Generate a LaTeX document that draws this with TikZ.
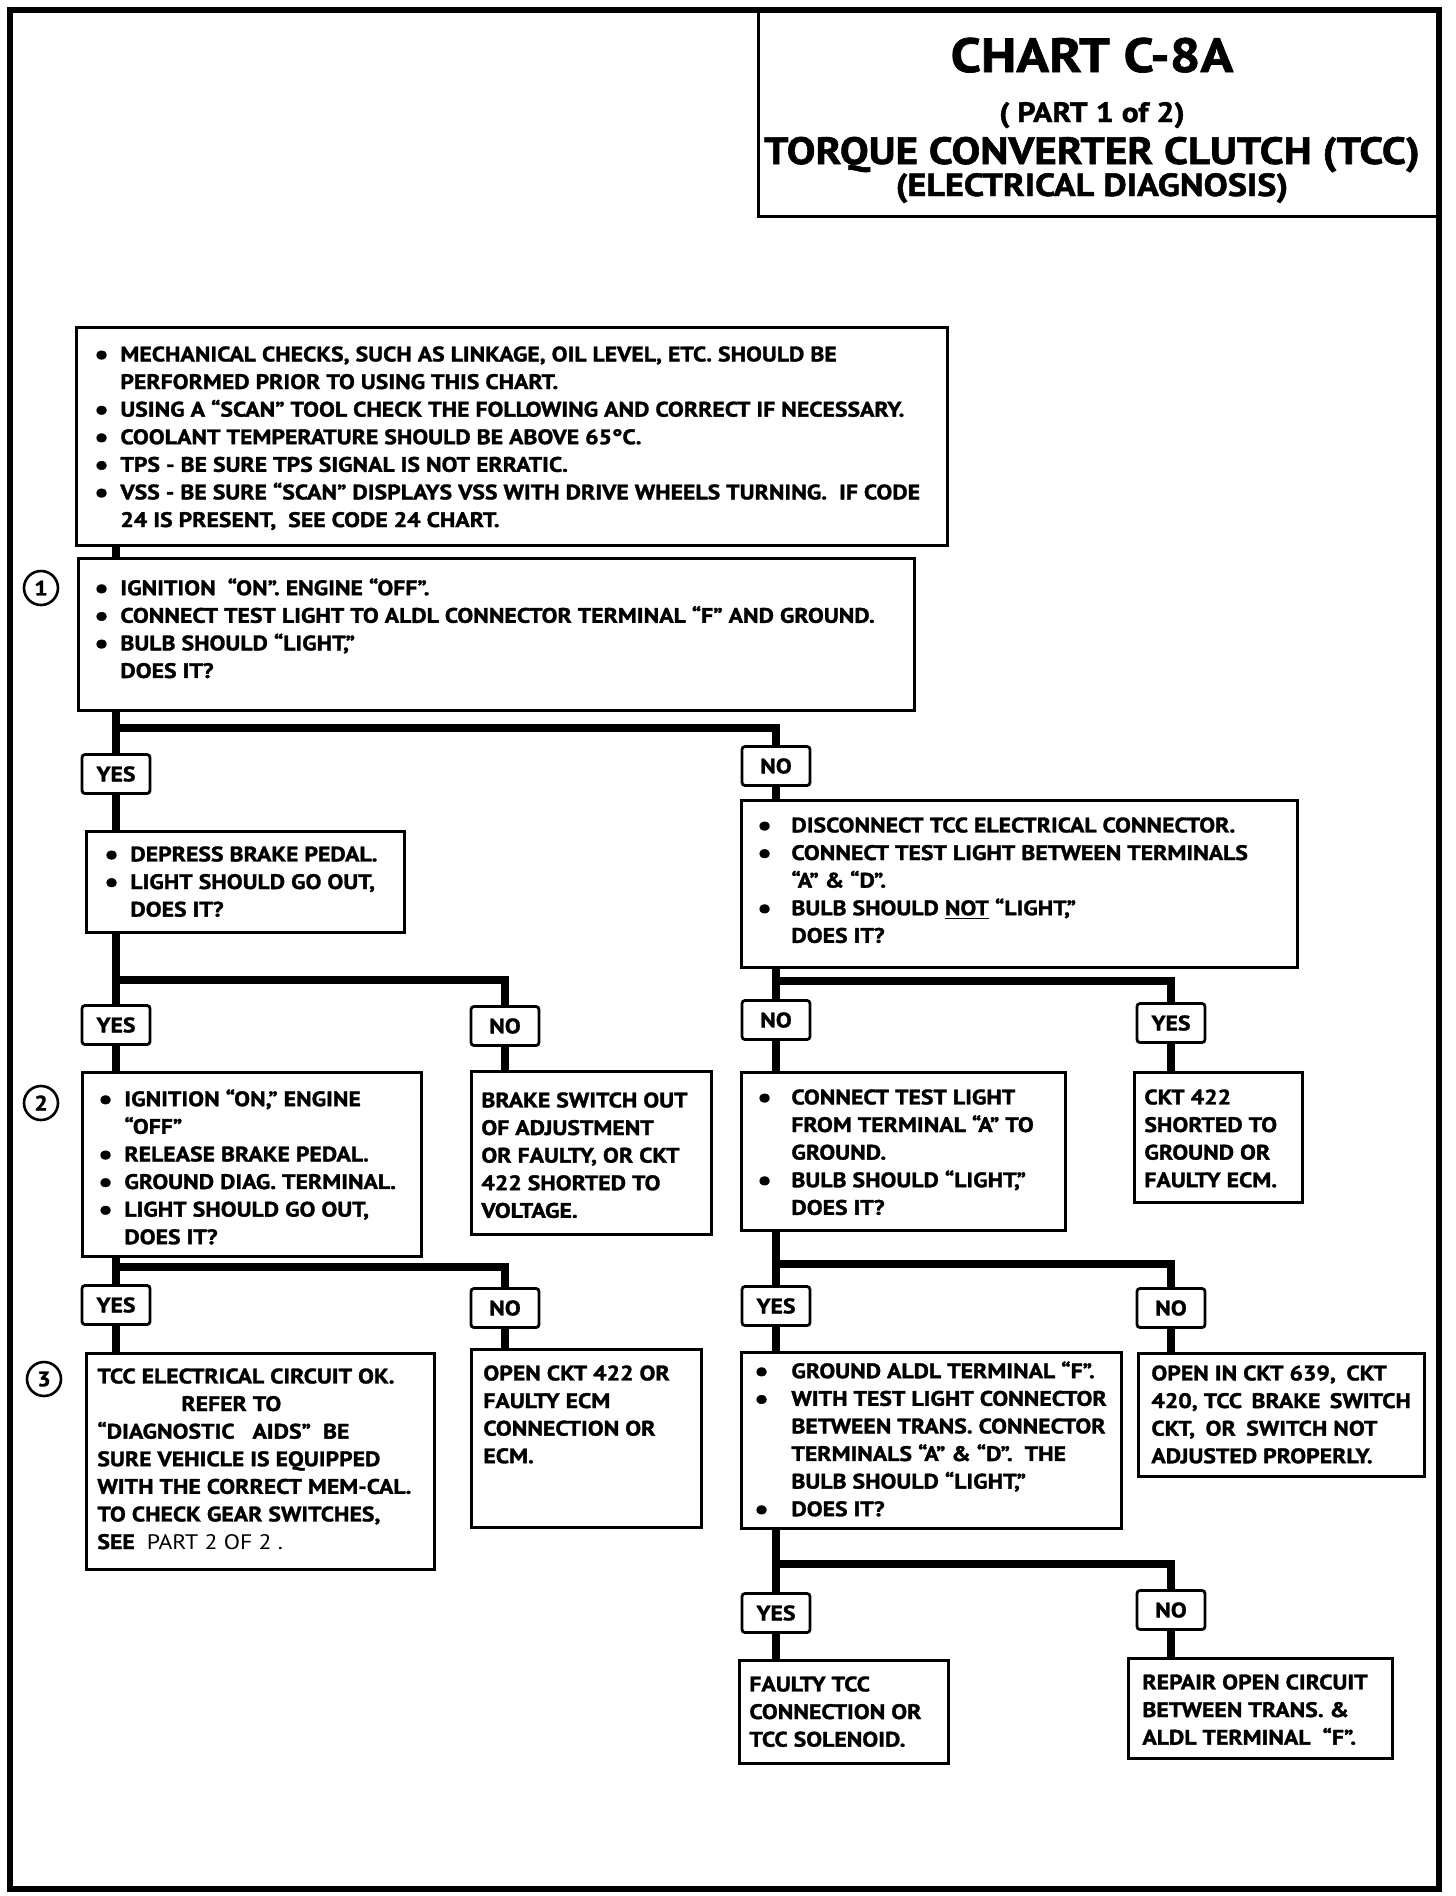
\documentclass[tikz,border=0pt]{standalone}
\usepackage{fontspec}
\setmainfont{PT Sans}[FakeStretch=1.13, BoldFeatures={FakeBold=1.5}]
\usetikzlibrary{calc}

\newcommand{\blt}[1][13pt]{\makebox[#1][l]{\raisebox{-1.2pt}{\fontsize{14}{14}\selectfont\textbullet}}}
\newcommand{\hng}[1][13pt]{\hspace*{#1}}

\begin{document}
\begin{tikzpicture}[
    x=0.5pt, y=-0.5pt,
    every node/.style={font=\bfseries\fontsize{10.5}{13.8}\selectfont, inner sep=0pt},
    box/.style={draw, line width=1.3pt, anchor=north west},
    txt/.style={anchor=north west, align=left},
    lbl/.style={draw, line width=1.4pt, rounded corners=1.5pt, minimum width=34pt, minimum height=19.5pt},
    num/.style={draw, circle, line width=1.3pt, minimum size=17pt},
    wire/.style={line width=3.6pt}
]
\useasboundingbox (0,0) rectangle (1456,1896);
\draw[line width=3pt] (10,10) rectangle (1439,1889);

\node[box, line width=1.5pt, minimum width=341pt, minimum height=102.5pt] (head) at (757,10) {};
\node[anchor=base, font=\bfseries\fontsize{24}{28}\selectfont] (ttl) at (1092,72) {CHART C-8A};
\node[anchor=base, font=\bfseries\fontsize{14}{16}\selectfont] (part) at (1092,122) {( PART 1 of 2)};
\node[anchor=base, font=\bfseries\fontsize{19}{22}\selectfont] (tcc) at (1092,164) {TORQUE CONVERTER CLUTCH (TCC)};
\node[anchor=base, font=\bfseries\fontsize{16}{19}\selectfont] (diag) at (1092,196) {(ELECTRICAL DIAGNOSIS)};

\node[box, minimum width=435.5pt, minimum height=109pt] (pre) at (75,326) {};
\node[txt] (pret) at ([shift={(19,20)}]pre.north west) {\blt MECHANICAL CHECKS, SUCH AS LINKAGE, OIL LEVEL, ETC. SHOULD BE\\
\hng PERFORMED PRIOR TO USING THIS CHART.\\
\blt USING A ``SCAN'' TOOL CHECK THE FOLLOWING AND CORRECT IF NECESSARY.\\
\blt COOLANT TEMPERATURE SHOULD BE ABOVE 65°C.\\
\blt TPS - BE SURE TPS SIGNAL IS NOT ERRATIC.\\
\blt VSS - BE SURE ``SCAN'' DISPLAYS VSS WITH DRIVE WHEELS TURNING.\ \ IF CODE\\
\hng 24 IS PRESENT,\ \ SEE CODE 24 CHART.};

\node[box, minimum width=418pt, minimum height=76pt] (s1) at (77,557) {};
\node[txt] (s1t) at ([shift={(17,21)}]s1.north west) {\blt IGNITION\ \ ``ON''. ENGINE ``OFF''.\\
\blt CONNECT TEST LIGHT TO ALDL CONNECTOR TERMINAL ``F'' AND GROUND.\\
\blt BULB SHOULD ``LIGHT,''\\
\hng DOES IT?};
\node[num] (c1) at (41,588) {1};

\node[lbl] (yes1) at (116,774) {YES};
\node[lbl] (no1) at (776,766) {NO};

\node[box, minimum width=159pt, minimum height=50.5pt] (brk) at (85,830) {};
\node[txt] (brkt) at ([shift={(19,16)}]brk.north west) {\blt DEPRESS BRAKE PEDAL.\\
\blt LIGHT SHOULD GO OUT,\\
\hng DOES IT?};

\node[box, minimum width=278pt, minimum height=83.5pt] (dis) at (740,799) {};
\node[txt] (dist) at ([shift={(17,18)}]dis.north west) {\blt[14pt] DISCONNECT TCC ELECTRICAL CONNECTOR.\\
\blt[14pt] CONNECT TEST LIGHT BETWEEN TERMINALS\\
\hng[14pt] ``A'' \& ``D''.\\
\blt[14pt] BULB SHOULD \underline{NOT} ``LIGHT,''\\
\hng[14pt] DOES IT?};

\node[lbl] (yes2) at (116,1025) {YES};
\node[lbl] (no2) at (505,1026) {NO};
\node[lbl] (no4) at (776,1020) {NO};
\node[lbl] (yes4) at (1171,1023) {YES};

\node[box, minimum width=169.5pt, minimum height=92pt] (ign) at (81,1071) {};
\node[txt] (ignt) at ([shift={(17,18)}]ign.north west) {\blt IGNITION ``ON,'' ENGINE\\
\hng ``OFF''\\
\blt RELEASE BRAKE PEDAL.\\
\blt GROUND DIAG. TERMINAL.\\
\blt LIGHT SHOULD GO OUT,\\
\hng DOES IT?};
\node[num] (c2) at (41,1103) {2};

\node[box, minimum width=120pt, minimum height=81.5pt] (bsw) at (470,1070) {};
\node[txt] (bswt) at ([shift={(11,22)}]bsw.north west) {BRAKE SWITCH OUT\\
OF ADJUSTMENT\\
OR FAULTY, OR CKT\\
422 SHORTED TO\\
VOLTAGE.};

\node[box, minimum width=162pt, minimum height=79pt] (ctl) at (740,1071) {};
\node[txt] (ctlt) at ([shift={(17,18)}]ctl.north west) {\blt[14pt] CONNECT TEST LIGHT\\
\hng[14pt] FROM TERMINAL ``A'' TO\\
\hng[14pt] GROUND.\\
\blt[14pt] BULB SHOULD ``LIGHT,''\\
\hng[14pt] DOES IT?};

\node[box, minimum width=84pt, minimum height=65pt] (ck422) at (1133,1071) {};
\node[txt] (ck422t) at ([shift={(11,18)}]ck422.north west) {CKT 422\\
SHORTED TO\\
GROUND OR\\
FAULTY ECM.};

\node[lbl] (yes3) at (116,1305) {YES};
\node[lbl] (no3) at (505,1308) {NO};
\node[lbl] (yes5) at (776,1306) {YES};
\node[lbl] (no5) at (1171,1308) {NO};

\node[box, minimum width=174pt, minimum height=108pt] (ok) at (85,1352) {};
\node[txt] (okt) at ([shift={(12,16)}]ok.north west) {TCC ELECTRICAL CIRCUIT OK.\\
\hspace*{42pt}REFER TO\\
``DIAGNOSTIC\ \ \ AIDS''\ \ BE\\
SURE VEHICLE IS EQUIPPED\\
WITH THE CORRECT MEM-CAL.\\
TO CHECK GEAR SWITCHES,\\
SEE\ \ {\mdseries PART 2 OF 2 .}};
\node[num] (c3) at (44,1379) {3};

\node[box, minimum width=115pt, minimum height=89pt] (open422) at (470,1348) {};
\node[txt] (open422t) at ([shift={(13,17)}]open422.north west) {OPEN CKT 422 OR\\
FAULTY ECM\\
CONNECTION OR\\
ECM.};

\node[box, minimum width=190pt, minimum height=88pt] (gnd) at (740,1351) {};
\node[txt] (gndt) at ([shift={(14,10)}]gnd.north west) {\blt[15.5pt] GROUND ALDL TERMINAL ``F''.\\
\blt[15.5pt] WITH TEST LIGHT CONNECTOR\\
\hng[15.5pt] BETWEEN TRANS. CONNECTOR\\
\hng[15.5pt] TERMINALS ``A'' \& ``D''.\ \ THE\\
\hng[15.5pt] BULB SHOULD ``LIGHT,''\\
\blt[15.5pt] DOES IT?};

\node[box, minimum width=143pt, minimum height=61.5pt] (open639) at (1137,1352) {};
\node[txt] (open639t) at ([shift={(14,13)}]open639.north west) {OPEN IN CKT 639,\hspace{0.5em}CKT\\
420, TCC\hspace{0.45em}BRAKE\hspace{0.45em}SWITCH\\
CKT,\hspace{0.5em}OR\hspace{0.5em}SWITCH NOT\\
ADJUSTED PROPERLY.};

\node[lbl] (yes6) at (776,1613) {YES};
\node[lbl] (no6) at (1171,1610) {NO};

\node[box, minimum width=104.5pt, minimum height=51.5pt] (faulty) at (738,1659) {};
\node[txt] (faultyt) at ([shift={(11,17)}]faulty.north west) {FAULTY TCC\\
CONNECTION OR\\
TCC SOLENOID.};

\node[box, minimum width=132pt, minimum height=50pt] (repair) at (1127,1657) {};
\node[txt] (repairt) at ([shift={(15,17)}]repair.north west) {REPAIR OPEN CIRCUIT\\
BETWEEN TRANS. \&\\
ALDL TERMINAL\ \ ``F''.};

\coordinate (j1) at (116,728);
\coordinate (j2) at (116,980);
\coordinate (j3) at (116,1267);
\coordinate (j4) at (776,981);
\coordinate (j5) at (776,1264);
\coordinate (j6) at (776,1564);

\draw[wire] (pre.south -| yes1) -- (s1.north -| yes1);
\draw[wire] (s1.south -| yes1) -- (yes1.north);
\draw[wire] (j1) -| (no1.north);
\draw[wire] (yes1.south) -- (brk.north -| yes1);
\draw[wire] (no1.south) -- (dis.north -| no1);

\draw[wire] (brk.south -| yes2) -- (yes2.north);
\draw[wire] (j2) -| (no2.north);
\draw[wire] (yes2.south) -- (ign.north -| yes2);
\draw[wire] (no2.south) -- (bsw.north -| no2);

\draw[wire] (ign.south -| yes3) -- (yes3.north);
\draw[wire] (j3) -| (no3.north);
\draw[wire] (yes3.south) -- (ok.north -| yes3);
\draw[wire] (no3.south) -- (open422.north -| no3);

\draw[wire] (dis.south -| no4) -- (no4.north);
\draw[wire] (j4) -| (yes4.north);
\draw[wire] (no4.south) -- (ctl.north -| no4);
\draw[wire] (yes4.south) -- (ck422.north -| yes4);

\draw[wire] (ctl.south -| yes5) -- (yes5.north);
\draw[wire] (j5) -| (no5.north);
\draw[wire] (yes5.south) -- (gnd.north -| yes5);
\draw[wire] (no5.south) -- (open639.north -| no5);

\draw[wire] (gnd.south -| yes6) -- (yes6.north);
\draw[wire] (j6) -| (no6.north);
\draw[wire] (yes6.south) -- (faulty.north -| yes6);
\draw[wire] (no6.south) -- (repair.north -| no6);
\end{tikzpicture}
\end{document}
